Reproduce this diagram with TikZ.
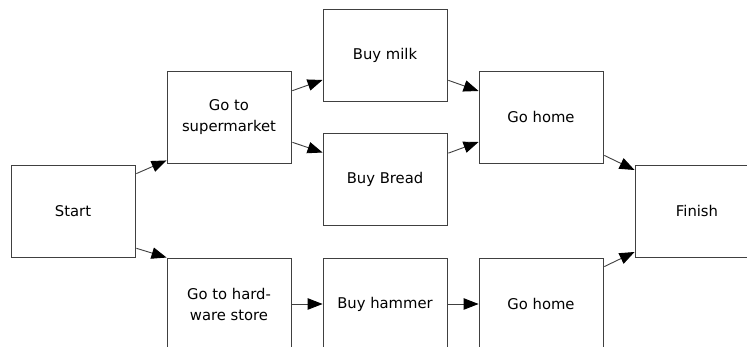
\documentclass[tikz,border=0pt]{standalone}
\usepackage{fontspec}
\setmainfont{DejaVu Sans}
\usetikzlibrary{arrows.meta}
\begin{document}
\begin{tikzpicture}[x=1pt,y=-1pt,
  taskbox/.style={draw=black!75,line width=0.9pt,rectangle,minimum width=124pt,minimum height=92pt,
    inner sep=0pt,align=center,font=\fontsize{14.8}{21}\selectfont},
  flow/.style={draw=black!75,line width=0.9pt,shorten <=1pt,
    -{Triangle[length=15pt,width=11.5pt,color=black]}}]
  \clip (0,0) rectangle (747,347);
  \fill[white] (0,0) rectangle (747,347);
  % task boxes
  \node[taskbox] (start)  at (73,211)    {Start};
  \node[taskbox] (super)  at (229,117)   {Go to\\supermarket};
  \node[taskbox] (milk)   at (385,55)    {Buy milk};
  \node[taskbox] (bread)  at (385,179.5) {Buy Bread};
  \node[taskbox] (homeA)  at (541,117)   {Go home};
  \node[taskbox] (finish) at (697,211)   {Finish};
  \node[taskbox] (hware)  at (229,304)   {Go to hard-\\ware store};
  \node[taskbox] (hammer) at (385,304)   {Buy hammer};
  \node[taskbox] (homeB)  at (541,304)   {Go home};
  % connectors
  \draw[flow] ([yshift=37pt]start.east) -- ([yshift=3pt]super.south west);
  \draw[flow] ([yshift=-37pt]start.east) -- (hware.north west);
  \draw[flow] ([yshift=26pt]super.east) -- ([yshift=-25pt]milk.west);
  \draw[flow] ([yshift=-25pt]super.east) -- ([yshift=27pt]bread.west);
  \draw[flow] ([yshift=-25pt]milk.east) -- ([yshift=26pt]homeA.west);
  \draw[flow] ([yshift=26pt]bread.east) -- ([yshift=-25pt]homeA.west);
  \draw[flow] ([yshift=-38pt]homeA.east) -- ([yshift=41pt]finish.west);
  \draw[flow] ([yshift=37pt]homeB.east) -- ([yshift=-41pt]finish.west);
  \draw[flow] (hware.east) -- (hammer.west);
  \draw[flow] (hammer.east) -- (homeB.west);
\end{tikzpicture}
\end{document}
